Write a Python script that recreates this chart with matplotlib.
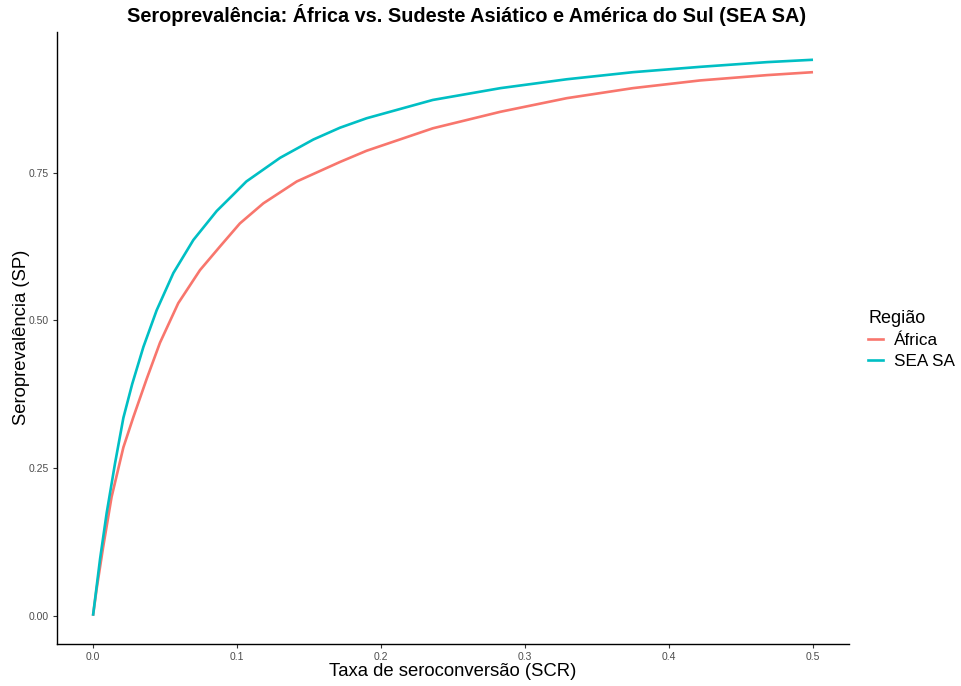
import matplotlib
matplotlib.use("Agg")
import matplotlib.pyplot as plt
from matplotlib.lines import Line2D

plt.rcParams['font.family'] = ['Liberation Sans', 'DejaVu Sans']

# valores
scr_africa = [0.0, 0.0025, 0.0071, 0.0129, 0.0211, 0.028, 0.0373, 0.0465, 0.0592,
              0.0743, 0.0882, 0.102, 0.1183, 0.1415, 0.1715, 0.190, 0.236, 0.283,
              0.329, 0.375, 0.4215, 0.468, 0.500]
sp_africa = [0.0, 0.045, 0.117, 0.201, 0.285, 0.336, 0.401, 0.462, 0.529,
             0.585, 0.625, 0.664, 0.698, 0.735, 0.768, 0.787, 0.825, 0.853,
             0.876, 0.893, 0.906, 0.915, 0.920]

scr_sea = [0.0, 0.0049, 0.0095, 0.0153, 0.0211, 0.0272, 0.035, 0.0442, 0.0558,
           0.0697, 0.0859, 0.0975, 0.1065, 0.1299, 0.153, 0.1715, 0.190, 0.236,
           0.283, 0.329, 0.375, 0.4215, 0.468, 0.500]
sp_sea = [0.0, 0.096, 0.174, 0.258, 0.335, 0.392, 0.455, 0.517, 0.580,
          0.636, 0.685, 0.713, 0.735, 0.775, 0.806, 0.826, 0.842, 0.873,
          0.893, 0.908, 0.920, 0.929, 0.937, 0.941]

x_ticks = [0.0, 0.1, 0.2, 0.3, 0.4, 0.5]
x_ticklabels = ["0.0", "0.1", "0.2", "0.3", "0.4", "0.5"]
y_ticks = [0.0, 0.25, 0.5, 0.75]
y_ticklabels = ["0.00", "0.25", "0.50", "0.75"]

cor_africa = "#F8766D"
cor_sea = "#00BFC4"

fig = plt.figure(figsize=(9.62, 6.86), dpi=100)
ax = fig.add_axes([57/962, 1 - 643.5/686, (849-57)/962, (643.5-32)/686])

ax.plot(scr_africa, sp_africa, color=cor_africa, lw=1.9, solid_capstyle='butt', solid_joinstyle='round')
ax.plot(scr_sea, sp_sea, color=cor_sea, lw=1.9, solid_capstyle='butt', solid_joinstyle='round')

ax.set_xlim(-0.025, 0.525)
ax.set_ylim(-0.047, 0.988)

ax.set_xticks(x_ticks)
ax.set_xticklabels(x_ticklabels)
ax.set_yticks(y_ticks)
ax.set_yticklabels(y_ticklabels)
ax.tick_params(axis='both', labelsize=7.5, labelcolor='#4D4D4D', color='#333333',
               length=3, width=0.8, pad=3)

for s in ['top', 'right']:
    ax.spines[s].set_visible(False)
for s in ['left', 'bottom']:
    ax.spines[s].set_color('#000000')
    ax.spines[s].set_linewidth(1.0)

ax.set_xlabel("Taxa de seroconversão (SCR)", fontsize=13.3, labelpad=1)
ax.set_ylabel("Seroprevalência (SP)", fontsize=13.3, labelpad=-1)

fig.text(467/962, 1 - 15/686, "Seroprevalência: África vs. Sudeste Asiático e América do Sul (SEA SA)",
         ha='center', va='center', fontsize=14.3, fontweight='bold')

handles = [Line2D([], [], color=cor_africa, lw=1.9),
           Line2D([], [], color=cor_sea, lw=1.9)]
leg = fig.legend(handles, ["África", "SEA SA"], title="Região",
                 loc='upper left', bbox_to_anchor=(868/962, 1 - 310/686),
                 frameon=False, fontsize=12.3, title_fontsize=13,
                 handlelength=0.9, handletextpad=0.6, labelspacing=0.35,
                 borderaxespad=0, borderpad=0)
leg._legend_box.align = 'left'

fig.savefig("out.png", dpi=100)
